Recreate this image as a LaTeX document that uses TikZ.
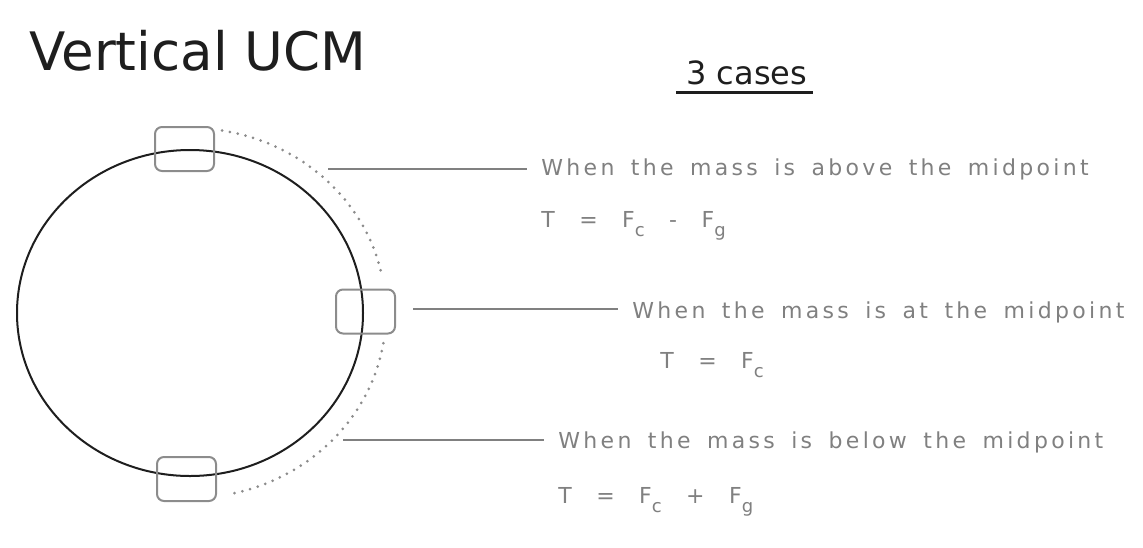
\documentclass[tikz,border=0pt]{standalone}
\usepackage{fontspec}
\setmainfont{DejaVu Sans}
\newfontfamily\handfont[LetterSpace=15,WordSpace=1.6]{DejaVu Sans}
\usetikzlibrary{positioning}
\definecolor{inkgray}{RGB}{128,128,128}
\definecolor{boxgray}{RGB}{140,140,140}
\definecolor{dotgray}{RGB}{140,140,140}
\definecolor{ink}{RGB}{30,30,30}
\newcommand{\lowidx}[1]{\raisebox{-9pt}{\fontsize{18}{20}\selectfont #1}}
\newcommand{\wgap}{\hspace{8pt}}

\begin{document}
\begin{tikzpicture}[x=1pt,y=1pt,thick,
  mass node/.style={draw=boxgray,line width=2pt,rounded corners=7pt,minimum width=59pt,minimum height=44pt,inner sep=0pt},
  case text/.style={anchor=base west,inner sep=0pt,text=inkgray,font=\handfont\fontsize{22}{26}\selectfont},
  guide line/.style={draw=inkgray,line width=2pt,shorten >=14pt},
  path dots/.style={draw=dotgray,line width=3pt,line cap=round,dash pattern=on 0pt off 8pt}]

  \useasboundingbox (0,0) rectangle (1143,-547);

  \node[anchor=base west,inner sep=0pt,text=ink,font=\fontsize{53}{58}\selectfont] (title) at (29,-70) {Vertical UCM};
  \node[anchor=base west,inner sep=0pt,text=ink,font=\fontsize{32}{38}\selectfont] (cases) at (686,-84) {3 cases};
  \draw[ink,line width=3pt] ([xshift=-10pt,yshift=-8pt]cases.base west) -- ([xshift=5pt,yshift=-8pt]cases.base east);

  \coordinate (hub) at (190,-313);
  \draw[ink,line width=2pt] (hub) ellipse [x radius=173, y radius=163];
  \draw[path dots] (hub) ++(80.6:196 and 185) arc[start angle=80.6,end angle=11.8,x radius=196,y radius=185];
  \draw[path dots] (hub) ++(-9.4:196 and 185) arc[start angle=-9.4,end angle=-77.6,x radius=196,y radius=185];

  \node[mass node] (top) at (184.5,-149) {};
  \node[mass node] (mid) at (365.5,-311.5) {};
  \node[mass node] (bot) at (186.5,-479) {};

  \node[case text] (t1) at (541,-175) {When the mass is above the midpoint};
  \node[case text] (f1) [below=52pt of t1.base west,anchor=base west] {T \wgap= \wgap F\lowidx{c} \wgap- \wgap F\lowidx{g}};
  \node[case text] (t2) at (632,-318) {When the mass is at the midpoint};
  \node[case text] (f2) [below right=50pt and 28pt of t2.base west,anchor=base west] {T \wgap= \wgap F\lowidx{c}};
  \node[case text] (t3) at (558,-448) {When the mass is below the midpoint};
  \node[case text] (f3) [below=55pt of t3.base west,anchor=base west] {T \wgap= \wgap F\lowidx{c} \wgap+ \wgap F\lowidx{g}};

  \coordinate (c1) at (328,-169);
  \coordinate (c2) at (413,-309);
  \coordinate (c3) at (343,-440);
  \draw[guide line] (c1) -- (c1 -| t1.west);
  \draw[guide line] (c2) -- (c2 -| t2.west);
  \draw[guide line] (c3) -- (c3 -| t3.west);
\end{tikzpicture}
\end{document}
